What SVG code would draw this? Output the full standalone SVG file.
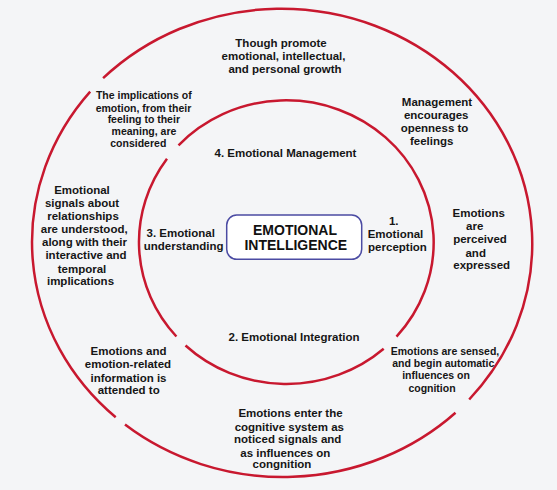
<svg xmlns="http://www.w3.org/2000/svg" width="557" height="490" viewBox="0 0 557 490">
<style>
.ring{fill:none;stroke:#c8182f;stroke-width:2.5;stroke-linecap:butt}
.t{font-family:"Liberation Sans",Arial,sans-serif;font-weight:bold;font-size:11.5px;fill:#161616;text-anchor:middle}
.s{font-size:10.5px}
.core{fill:#ffffff;stroke:#4b4ba3;stroke-width:1.5}
.ct{font-family:"Liberation Sans",Arial,sans-serif;font-weight:bold;font-size:14px;fill:#111111;text-anchor:middle}
</style>
<rect x="0" y="0" width="557" height="490" fill="#f4f5f7"/>
<g id="connectors">
<path class="ring" d="M103.1,78.2 A251,235 0 0 1 469.2,399.5"/>
<path class="ring" d="M455.5,412.7 A251,235 0 0 1 125,424.6"/>
<path class="ring" d="M115.7,417.2 A251,235 0 0 1 90.2,91.6"/>
<path class="ring" d="M178.5,145.3 A147.5,142 0 0 1 396.5,336.6"/>
<path class="ring" d="M383.7,348.8 A147.5,142 0 0 1 185.5,345.5"/>
<path class="ring" d="M176.4,336.5 A147.5,142 0 0 1 167,158.7"/>
</g>
<g id="core">
<rect class="core" x="226.7" y="215" width="135" height="44.3" rx="10"/>
<text class="ct" x="295" y="235">EMOTIONAL</text>
<text class="ct" x="295.8" y="250">INTELLIGENCE</text>
</g>
<g id="stage1">
<text class="t" x="393.7" y="225">1.</text>
<text class="t" x="395.5" y="238.3">Emotional</text>
<text class="t" x="397.5" y="251">perception</text>
</g>
<g id="stage2">
<text class="t" x="294" y="341">2. Emotional Integration</text>
</g>
<g id="stage3">
<text class="t" x="180.7" y="236.7">3. Emotional</text>
<text class="t" x="183.7" y="250">understanding</text>
</g>
<g id="stage4">
<text class="t" x="285.5" y="156.7">4. Emotional Management</text>
</g>
<g id="note-growth">
<text class="t" x="281" y="46.7">Though promote</text>
<text class="t" x="283.5" y="60">emotional, intellectual,</text>
<text class="t" x="285" y="72.7">and personal growth</text>
</g>
<g id="note-openness">
<text class="t" x="437" y="106">Management</text>
<text class="t" x="436.2" y="119">encourages</text>
<text class="t" x="434.5" y="132.3">openness to</text>
<text class="t" x="431.7" y="144.5">feelings</text>
</g>
<g id="note-perceived">
<text class="t" x="478.7" y="216.7">Emotions</text>
<text class="t" x="474.7" y="230">are</text>
<text class="t" x="480" y="243.3">perceived</text>
<text class="t" x="475.7" y="256.7">and</text>
<text class="t" x="481.7" y="269">expressed</text>
</g>
<g id="note-sensed">
<text class="t s" x="445" y="355">Emotions are sensed,</text>
<text class="t s" x="443.3" y="367.3">and begin automatic</text>
<text class="t s" x="436" y="379.3">influences on</text>
<text class="t s" x="432" y="391.7">cognition</text>
</g>
<g id="note-enter">
<text class="t" x="290.5" y="417.3">Emotions enter the</text>
<text class="t" x="289.3" y="430.7">cognitive system as</text>
<text class="t" x="287.7" y="443.3">noticed signals and</text>
<text class="t" x="285.3" y="456.7">as influences on</text>
<text class="t" x="282" y="468.3">congnition</text>
</g>
<g id="note-attended">
<text class="t" x="128.5" y="355">Emotions and</text>
<text class="t" x="128" y="367.7">emotion-related</text>
<text class="t" x="128.5" y="381.7">information is</text>
<text class="t" x="128.7" y="394">attended to</text>
</g>
<g id="note-relationships">
<text class="t" x="82" y="194">Emotional</text>
<text class="t" x="82" y="206.7">signals about</text>
<text class="t" x="83" y="220">relationships</text>
<text class="t" x="84.2" y="233.3">are understood,</text>
<text class="t" x="84.5" y="246">along with their</text>
<text class="t" x="86" y="259.3">interactive and</text>
<text class="t" x="82" y="272.7">temporal</text>
<text class="t" x="80.5" y="285">implications</text>
</g>
<g id="note-implications">
<text class="t s" x="143.8" y="99">The implications of</text>
<text class="t s" x="143.5" y="111.7">emotion, from their</text>
<text class="t s" x="143.8" y="123.3">feeling to their</text>
<text class="t s" x="144" y="135">meaning, are</text>
<text class="t s" x="138.3" y="147.3">considered</text>
</g>
</svg>
